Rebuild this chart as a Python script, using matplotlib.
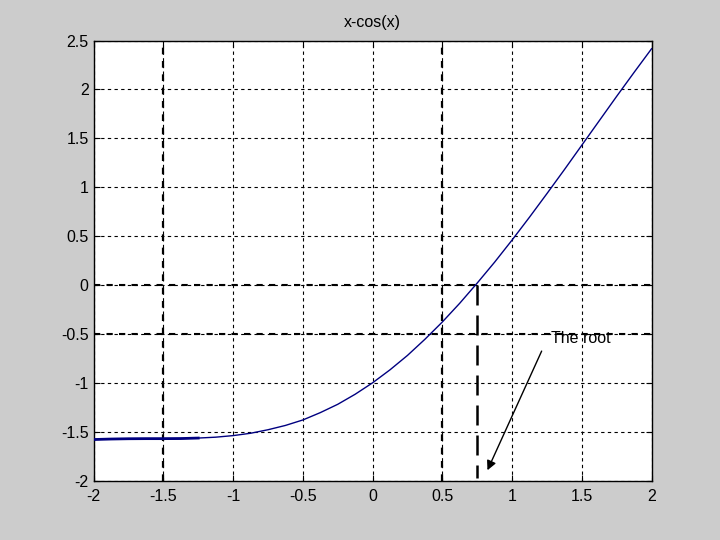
import matplotlib
matplotlib.use("Agg")
import matplotlib.pyplot as plt

x_vals = [-2.0, -1.875, -1.75, -1.625, -1.5, -1.375, -1.25, -1.125, -1.0, -0.875, -0.75,
          -0.625, -0.5, -0.375, -0.25, -0.125, 0.0, 0.125, 0.25, 0.375, 0.5, 0.625, 0.75,
          0.875, 1.0, 1.125, 1.25, 1.375, 1.5, 1.625, 1.75, 1.875, 2.0]
y_vals = [-1.58, -1.575, -1.572, -1.571, -1.571, -1.57, -1.565, -1.556, -1.54, -1.516, -1.48,
          -1.436, -1.38, -1.305, -1.22, -1.117, -1.0, -0.867, -0.72, -0.555, -0.378, -0.186, 0.02,
          0.234, 0.46, 0.694, 0.935, 1.18, 1.43, 1.68, 1.93, 2.175, 2.416]
x_ticks = [-2, -1.5, -1, -0.5, 0, 0.5, 1, 1.5, 2]
x_tick_labels = ["-2", "-1.5", "-1", "-0.5", "0", "0.5", "1", "1.5", "2"]
y_ticks = [-2, -1.5, -1, -0.5, 0, 0.5, 1, 1.5, 2, 2.5]
y_tick_labels = ["-2", "-1.5", "-1", "-0.5", "0", "0.5", "1", "1.5", "2", "2.5"]
root_x = 0.75
title = "x-cos(x)"
note = "The root"

plt.rcParams['font.family'] = ['Liberation Sans', 'DejaVu Sans']
fig = plt.figure(figsize=(7.2, 5.4), dpi=100, facecolor='#cccccc')
ax = fig.add_axes([0.13, 0.11, 0.775, 0.815])
ax.set_facecolor('white')

ax.plot(x_vals, y_vals, color='#000080', lw=1.0, zorder=3)
thick_x = [v for v in x_vals if v <= -1.25]
thick_y = y_vals[:len(thick_x)]
ax.plot(thick_x, thick_y, color='#000080', lw=2.0, zorder=3)

ax.set_xlim(-2, 2)
ax.set_ylim(-2, 2.5)
ax.set_xticks(x_ticks)
ax.set_xticklabels(x_tick_labels)
ax.set_yticks(y_ticks)
ax.set_yticklabels(y_tick_labels)
ax.tick_params(direction='in', top=True, right=True, labelsize=11.5, length=4, colors='black')
ax.tick_params(axis='x', pad=6)
ax.grid(True, color='black', linestyle=(0, (3, 3)), lw=0.8)
for xv in [-1.5, 0.5]:
    ax.axvline(xv, color='black', linestyle=(0, (3, 3)), lw=1.6, zorder=2)
for yv in [0, -0.5]:
    ax.axhline(yv, color='black', linestyle=(0, (3, 3)), lw=1.5, zorder=2)
for s in ax.spines.values():
    s.set_linewidth(1.0)

ax.plot([root_x, root_x], [0, -1.97], color='black', linestyle=(0, (8, 4)), lw=1.8, zorder=4)
ax.annotate("", xy=(0.815, -1.92), xytext=(1.22, -0.65),
            arrowprops=dict(arrowstyle='-|>', color='black', lw=1.0, mutation_scale=14))
ax.text(1.28, -0.55, note, fontsize=11.5, va='center', ha='left')
ax.set_title(title, fontsize=11.5, pad=10)

fig.savefig("out.png", dpi=100, facecolor=fig.get_facecolor())
